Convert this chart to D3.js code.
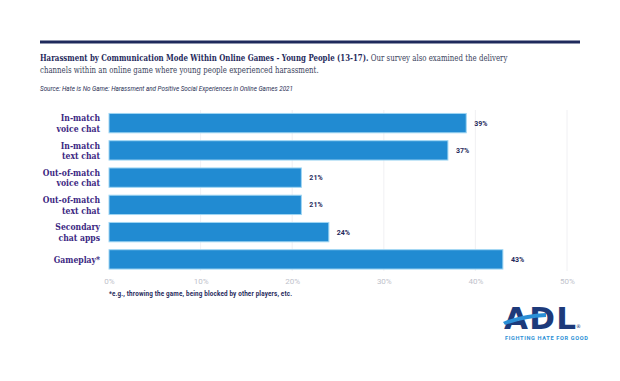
<!DOCTYPE html>
<html><head><meta charset="utf-8">
<script src="https://cdn.jsdelivr.net/npm/d3@7"></script>
<style>body{margin:0;background:#fff}svg{display:block}</style>
</head><body>
<script>
const categories = [["In-match","voice chat"],["In-match","text chat"],["Out-of-match","voice chat"],["Out-of-match","text chat"],["Secondary","chat apps"],["Gameplay*"]];
const values = [39, 37, 21, 21, 24, 43];
const tickValues = [0, 10, 20, 30, 40, 50];
const titleBold = "Harassment by Communication Mode Within Online Games - Young People (13-17).";
const titleRest = " Our survey also examined the delivery";
const titleLine2 = "channels within an online game where young people experienced harassment.";
const sourceText = "Source: Hate is No Game: Harassment and Positive Social Experiences in Online Games 2021";
const footnote = "*e.g., throwing the game, being blocked by other players, etc.";

const W = 620, H = 381;
const svg = d3.select("body").append("svg").attr("width", W).attr("height", H);
const navy = "#1f2a5c";

svg.append("rect").attr("x", 40).attr("y", 40.5).attr("width", 540).attr("height", 3).attr("fill", navy);

const serif = "'DejaVu Serif', serif";
const tg = svg.append("g");
const t1 = tg.append("text").attr("x", 0).attr("y", 61).attr("font-family", serif).attr("font-size", 10).attr("fill", navy);
t1.append("tspan").attr("font-weight", "bold").text(titleBold);
t1.append("tspan").attr("fill", "#3a3f5c").text(titleRest);
tg.append("text").attr("x", 0).attr("y", 73).attr("font-family", serif).attr("font-size", 10).attr("fill", "#3a3f5c").text(titleLine2);
const tw = t1.node().getComputedTextLength();
tg.attr("transform", `translate(40,0) scale(${468 / tw},1)`);

svg.append("text").attr("x", 40).attr("y", 91).attr("font-family", "'Roboto', sans-serif").attr("font-style", "italic").attr("font-size", 6.3).attr("fill", "#2a3055").text(sourceText);

const x = d3.scaleLinear().domain([0, 50]).range([109, 567]);
const y = d3.scaleBand().domain(d3.range(categories.length)).range([109.5, 273]).paddingInner(0.29).paddingOuter(0.145);

// grid
svg.append("g").selectAll("line").data(tickValues.slice(1)).join("line")
  .attr("x1", d => x(d)).attr("x2", d => x(d)).attr("y1", 110).attr("y2", 271)
  .attr("stroke", "#ececf0").attr("stroke-width", 0.8);

svg.append("g").selectAll("rect").data(values).join("rect")
  .attr("x", x(0)).attr("y", (d, i) => y(i)).attr("width", d => x(d) - x(0)).attr("height", y.bandwidth())
  .attr("fill", "#218bd2").attr("stroke", "#9fd6f3").attr("stroke-width", 1);

svg.append("g").selectAll("text").data(values).join("text")
  .attr("x", d => x(d) + 8).attr("y", (d, i) => y(i) + y.bandwidth() / 2 + 2.5)
  .attr("font-family", "'Roboto', sans-serif").attr("font-weight", "bold").attr("font-size", 7).attr("fill", navy)
  .text(d => d + "%");

// category labels
const lab = svg.append("g").selectAll("text").data(categories).join("text")
  .attr("text-anchor", "end").attr("font-family", serif).attr("font-weight", "bold").attr("font-size", 9.6)
  .attr("fill", "#3b2782")
  .attr("transform", (d, i) => `translate(100,${y(i) + y.bandwidth() / 2}) scale(0.8,1)`);
lab.each(function(d) {
  const n = d.length;
  d3.select(this).selectAll("tspan").data(d).join("tspan")
    .attr("x", 0).attr("y", (s, j) => (j - (n - 1) / 2) * 10.5 + 3.5).text(s => s);
});

// x axis
const ax = svg.append("g").attr("transform", "translate(0,271)")
  .call(d3.axisBottom(x).tickValues(tickValues).tickFormat(d => d + "%").tickSize(0).tickPadding(7));
ax.select(".domain").remove();
ax.selectAll("text").attr("font-family", "'Roboto', sans-serif").attr("font-size", 8).attr("fill", "#c0c2cb");

svg.append("text").attr("x", 109).attr("y", 296).attr("font-family", "'Roboto', sans-serif").attr("font-weight", "bold")
  .attr("font-size", 6.3).attr("fill", navy).attr("textLength", 183).text(footnote);

// logo
const logo = svg.append("g");
logo.append("text").attr("x", 504).attr("y", 329).attr("font-family", "'DejaVu Sans', sans-serif").attr("font-weight", "bold")
  .attr("font-size", 31).attr("letter-spacing", -2).attr("fill", "#1d3a7a").attr("textLength", 70).text("ADL");
logo.append("path").attr("d", "M503,322 Q522,314 546,313 L546,317 Q524,318 505,325 Z").attr("fill", "#2b8fd6");
logo.append("text").attr("x", 576).attr("y", 328).attr("font-family", "'DejaVu Sans', sans-serif").attr("font-size", 5).attr("fill", "#1d3a7a").text("®");
logo.append("text").attr("x", 505).attr("y", 340).attr("font-family", "'Roboto', sans-serif").attr("font-weight", "bold")
  .attr("font-size", 5.6).attr("fill", "#2b8fd6").attr("textLength", 83).text("FIGHTING HATE FOR GOOD");
</script>
</body></html>
